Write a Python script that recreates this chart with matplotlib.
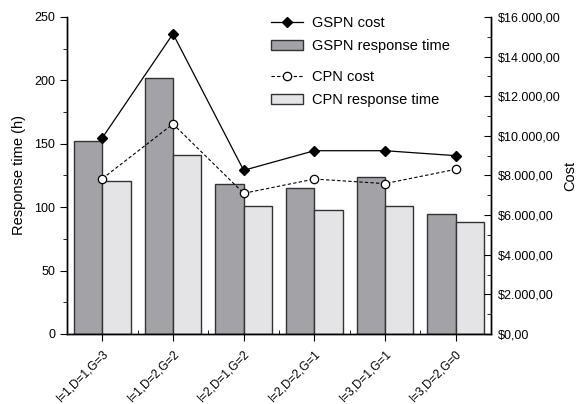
import numpy as np
import matplotlib
matplotlib.use("Agg")
from matplotlib import pyplot as plt
from matplotlib.ticker import MultipleLocator, FuncFormatter, FixedLocator

plt.rcParams['font.family'] = ['Liberation Sans', 'DejaVu Sans']

configs = ['I=1,D=1,G=3', 'I=1,D=2,G=2', 'I=2,D=1,G=2',
           'I=2,D=2,G=1', 'I=3,D=1,G=1', 'I=3,D=2,G=0']
gspn_time = [152, 202, 118, 115, 124, 95]
cpn_time = [121, 141, 101, 98, 101, 88]
gspn_cost = [9900, 15150, 8260, 9250, 9250, 9000]
cpn_cost = [7840, 10600, 7100, 7820, 7590, 8310]

x = np.arange(len(configs))
w = 0.4

fig = plt.figure(figsize=(5.81, 4.04), dpi=100)
ax = fig.add_axes([0.1153, 0.1733, 0.7298, 0.7847])
ax2 = ax.twinx()

b1 = ax.bar(x - w, gspn_time, w, align='edge', color='#a3a3a7',
            edgecolor='#333333', linewidth=1.0, label='GSPN response time')
b2 = ax.bar(x, cpn_time, w, align='edge', color='#e4e4e6',
            edgecolor='#333333', linewidth=1.0, label='CPN response time')

l1, = ax2.plot(x, gspn_cost, color='black', linewidth=0.9, marker='D',
               markersize=5.5, markerfacecolor='black', label='GSPN cost')
l2, = ax2.plot(x, cpn_cost, color='black', linewidth=0.8, linestyle=(0, (3, 2)),
               marker='o', markersize=6, markerfacecolor='white',
               markeredgecolor='black', markeredgewidth=0.9, label='CPN cost')

ax.set_zorder(ax2.get_zorder() - 1)
ax2.patch.set_visible(False)

ax.set_xlim(-0.5, 5.5)
ax.set_ylim(0, 250)
ax2.set_ylim(0, 16000)

for a in (ax, ax2):
    a.spines['top'].set_visible(False)
    for s in a.spines.values():
        s.set_linewidth(1.0)

ax.set_xticks(x)
ax.set_xticklabels(configs, rotation=45, ha='right', rotation_mode='anchor', fontsize=8.5)
ax.xaxis.set_minor_locator(FixedLocator(np.arange(-0.5, 6, 1.0)))
ax.tick_params(axis='x', which='major', direction='out', length=5, pad=5)
ax.tick_params(axis='x', which='minor', direction='in', length=3)

ax.yaxis.set_major_locator(MultipleLocator(50))
ax.yaxis.set_minor_locator(MultipleLocator(25))
ax.tick_params(axis='y', which='major', direction='out', length=5, labelsize=9)
ax.tick_params(axis='y', which='minor', direction='out', length=3)
ax.set_ylabel('Response time (h)', fontsize=10.5, labelpad=6)

ax2.yaxis.set_major_locator(MultipleLocator(2000))
ax2.yaxis.set_minor_locator(MultipleLocator(1000))
ax2.yaxis.set_major_formatter(FuncFormatter(
    lambda v, p: '$' + '{:,.2f}'.format(v).replace(',', 'X').replace('.', ',').replace('X', '.')))
ax2.tick_params(axis='y', which='major', direction='in', length=5, labelsize=9, pad=5)
ax2.tick_params(axis='y', which='minor', direction='in', length=3)
ax2.set_ylabel('Cost', fontsize=10.5, labelpad=2)

leg1 = ax2.legend([l1, b1], ['GSPN cost', 'GSPN response time'],
                  loc='upper left', bbox_to_anchor=(0.45, 1.045), frameon=False,
                  fontsize=10.5, handlelength=2.2, handletextpad=0.6, labelspacing=0.65)
ax2.add_artist(leg1)
ax2.legend([l2, b2], ['CPN cost', 'CPN response time'],
           loc='upper left', bbox_to_anchor=(0.45, 0.875), frameon=False,
           fontsize=10.5, handlelength=2.2, handletextpad=0.6, labelspacing=0.65)

fig.savefig('out.png', dpi=100)
